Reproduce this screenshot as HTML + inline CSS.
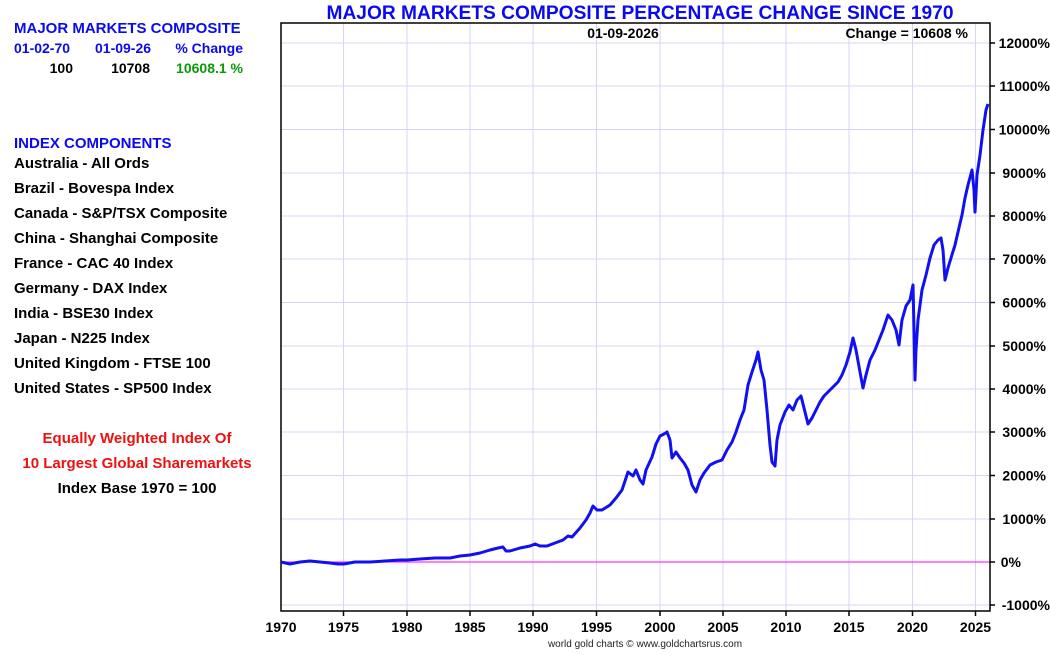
<!DOCTYPE html>
<html><head><meta charset="utf-8"><style>
body{margin:0;background:#fff;width:1050px;height:650px;overflow:hidden;font-family:"Liberation Sans",Arial,sans-serif;}
</style></head><body>
<svg width="1050" height="650" xmlns="http://www.w3.org/2000/svg" font-family="Liberation Sans, Arial, sans-serif" font-weight="bold">
<rect width="1050" height="650" fill="#fff"/>
<g stroke="#d4d4f4" stroke-width="1">
<line x1="281" y1="43" x2="990" y2="43"/><line x1="281" y1="86" x2="990" y2="86"/><line x1="281" y1="129.5" x2="990" y2="129.5"/><line x1="281" y1="173" x2="990" y2="173"/><line x1="281" y1="216" x2="990" y2="216"/><line x1="281" y1="259" x2="990" y2="259"/><line x1="281" y1="302.5" x2="990" y2="302.5"/><line x1="281" y1="346" x2="990" y2="346"/><line x1="281" y1="389" x2="990" y2="389"/><line x1="281" y1="432" x2="990" y2="432"/><line x1="281" y1="475.5" x2="990" y2="475.5"/><line x1="281" y1="519" x2="990" y2="519"/><line x1="281" y1="605" x2="990" y2="605"/>
<line x1="343.5" y1="23" x2="343.5" y2="611"/><line x1="407" y1="23" x2="407" y2="611"/><line x1="470" y1="23" x2="470" y2="611"/><line x1="533" y1="23" x2="533" y2="611"/><line x1="596.5" y1="23" x2="596.5" y2="611"/><line x1="660" y1="23" x2="660" y2="611"/><line x1="723" y1="23" x2="723" y2="611"/><line x1="786" y1="23" x2="786" y2="611"/><line x1="849" y1="23" x2="849" y2="611"/><line x1="912.5" y1="23" x2="912.5" y2="611"/><line x1="975.5" y1="23" x2="975.5" y2="611"/>
</g>
<line x1="281" y1="562" x2="990" y2="562" stroke="#ff33ff" stroke-width="1.2"/>
<rect x="281" y="23" width="709" height="588" fill="none" stroke="#000" stroke-width="1.5"/>
<g stroke="#000" stroke-width="1.5">
<line x1="990" y1="43" x2="995" y2="43"/><line x1="990" y1="86" x2="995" y2="86"/><line x1="990" y1="129.5" x2="995" y2="129.5"/><line x1="990" y1="173" x2="995" y2="173"/><line x1="990" y1="216" x2="995" y2="216"/><line x1="990" y1="259" x2="995" y2="259"/><line x1="990" y1="302.5" x2="995" y2="302.5"/><line x1="990" y1="346" x2="995" y2="346"/><line x1="990" y1="389" x2="995" y2="389"/><line x1="990" y1="432" x2="995" y2="432"/><line x1="990" y1="475.5" x2="995" y2="475.5"/><line x1="990" y1="519" x2="995" y2="519"/><line x1="990" y1="562" x2="995" y2="562"/><line x1="990" y1="605" x2="995" y2="605"/>
<line x1="343.5" y1="611" x2="343.5" y2="616"/><line x1="407" y1="611" x2="407" y2="616"/><line x1="470" y1="611" x2="470" y2="616"/><line x1="533" y1="611" x2="533" y2="616"/><line x1="596.5" y1="611" x2="596.5" y2="616"/><line x1="660" y1="611" x2="660" y2="616"/><line x1="723" y1="611" x2="723" y2="616"/><line x1="786" y1="611" x2="786" y2="616"/><line x1="849" y1="611" x2="849" y2="616"/><line x1="912.5" y1="611" x2="912.5" y2="616"/><line x1="975.5" y1="611" x2="975.5" y2="616"/>
</g>
<polyline fill="none" stroke="#1010f0" stroke-width="3" stroke-linejoin="round" points="281,562 290,564 300,562 310,561 320,562 330,563 338,564 344,564 355,562 370,562 385,561 400,560 407,560 420,559 435,558 450,558 460,556 470,555 480,553 490,550 498,548 503,547 506,551 510,551 520,548 530,546 535,544 540,546 547,546 555,543 563,540 568,536 572,537 580,528 586,520 590,513 593,506 597,510 602,510 610,505 616,498 622,490 628,472 633,476 636,470 640,480 643,484 646,470 652,457 656,444 660,436 664,434 667,432 670,440 672,458 676,452 680,458 684,463 688,470 692,485 696,492 700,480 704,473 710,465 716,462 722,460 727,450 732,442 736,432 740,420 744,410 748,385 752,372 756,360 758,352 761,370 764,380 767,410 770,445 772,462 775,466 777,440 780,425 785,412 789,405 793,410 797,400 801,396 805,412 808,424 812,418 816,410 820,402 824,396 828,392 832,388 838,382 842,375 846,365 850,352 853,338 856,350 860,372 863,388 866,375 870,360 875,350 879,340 883,330 888,315 892,320 896,330 899,345 902,320 906,306 910,300 913,285 914,330 915,380 916,350 918,320 922,290 926,275 930,258 934,245 938,240 941,238 943,250 945,280 948,268 951,258 955,245 958,232 962,215 965,198 968,185 972,170 974,190 975,212 977,175 980,155 983,130 986,110 988,104"/>
<text x="640" y="19" fill="#0a0aee" font-size="19" text-anchor="middle" textLength="627" lengthAdjust="spacingAndGlyphs">MAJOR MARKETS COMPOSITE PERCENTAGE CHANGE SINCE 1970</text>
<text x="623" y="38" font-size="14" text-anchor="middle">01-09-2026</text>
<text x="968" y="38" font-size="14" text-anchor="end">Change = 10608 %</text>
<g font-size="14" text-anchor="end">
<text x="1050" y="48">12000%</text><text x="1050" y="91">11000%</text><text x="1050" y="134.5">10000%</text><text x="1046" y="178">9000%</text><text x="1046" y="221">8000%</text><text x="1046" y="264">7000%</text><text x="1046" y="307.5">6000%</text><text x="1046" y="351">5000%</text><text x="1046" y="394">4000%</text><text x="1046" y="437">3000%</text><text x="1046" y="480.5">2000%</text><text x="1046" y="524">1000%</text><text x="1021" y="567">0%</text><text x="1050" y="610">-1000%</text>
</g>
<g font-size="14" text-anchor="middle">
<text x="281" y="632">1970</text><text x="343.5" y="632">1975</text><text x="407" y="632">1980</text><text x="470" y="632">1985</text><text x="533" y="632">1990</text><text x="596.5" y="632">1995</text><text x="660" y="632">2000</text><text x="723" y="632">2005</text><text x="786" y="632">2010</text><text x="849" y="632">2015</text><text x="912.5" y="632">2020</text><text x="975.5" y="632">2025</text>
</g>
<text x="645" y="647" font-size="10" font-weight="normal" text-anchor="middle" fill="#222">world gold charts © www.goldchartsrus.com</text>
<g font-size="15">
<text x="14" y="33" fill="#0a0aee">MAJOR MARKETS COMPOSITE</text>
<text x="14" y="53" fill="#0a0aee" font-size="14">01-02-70</text>
<text x="95" y="53" fill="#0a0aee" font-size="14">01-09-26</text>
<text x="243" y="53" fill="#0a0aee" font-size="14" text-anchor="end">% Change</text>
<text x="73" y="73" font-size="14" text-anchor="end">100</text>
<text x="150" y="73" font-size="14" text-anchor="end">10708</text>
<text x="243" y="73" font-size="14" text-anchor="end" fill="#0a9a0a">10608.1 %</text>
<text x="14" y="148" fill="#0a0aee">INDEX COMPONENTS</text>
</g>
<g font-size="15">
<text x="14" y="168">Australia - All Ords</text>
<text x="14" y="193">Brazil - Bovespa Index</text>
<text x="14" y="218">Canada - S&amp;P/TSX Composite</text>
<text x="14" y="243">China - Shanghai Composite</text>
<text x="14" y="268">France - CAC 40 Index</text>
<text x="14" y="293">Germany - DAX Index</text>
<text x="14" y="318">India - BSE30 Index</text>
<text x="14" y="343">Japan - N225 Index</text>
<text x="14" y="368">United Kingdom - FTSE 100</text>
<text x="14" y="393">United States - SP500 Index</text>
<text x="137" y="443" fill="#ee1111" text-anchor="middle">Equally Weighted Index Of</text>
<text x="137" y="468" fill="#ee1111" text-anchor="middle">10 Largest Global Sharemarkets</text>
<text x="137" y="493" text-anchor="middle">Index Base 1970 = 100</text>
</g>
</svg>
</body></html>
